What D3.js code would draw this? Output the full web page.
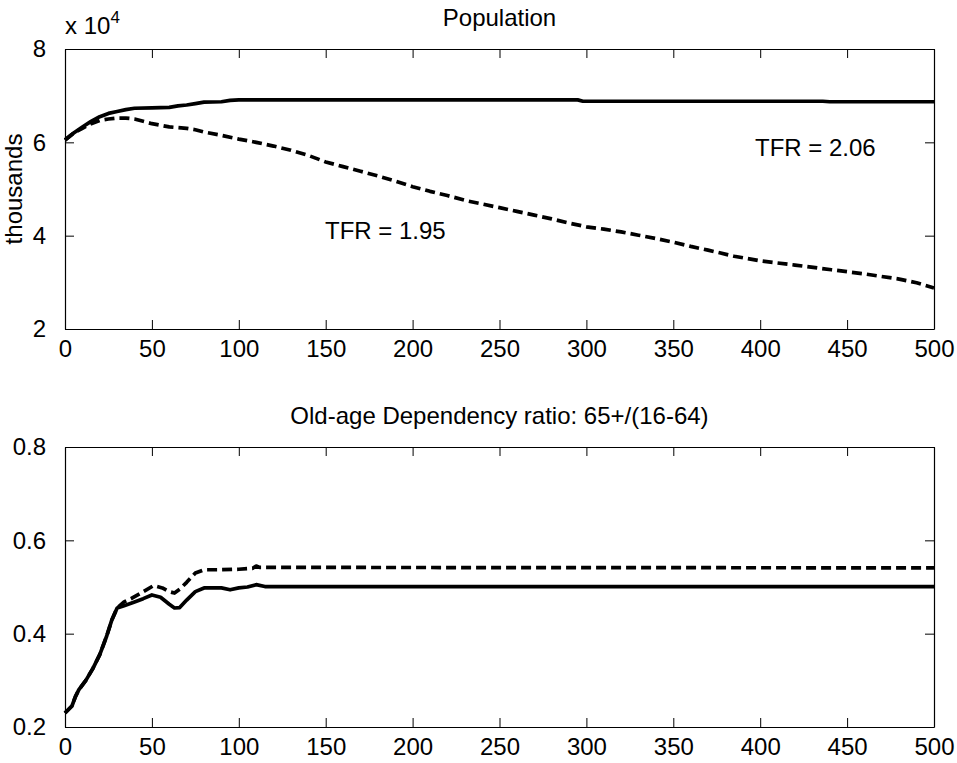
<!DOCTYPE html>
<html>
<head>
<meta charset="utf-8">
<script src="https://cdn.jsdelivr.net/npm/d3@7"></script>
<style>
  body { margin: 0; background: #fff; }
  svg text { font-family: "Liberation Sans", Arial, sans-serif; fill: #000; }
</style>
</head>
<body>
<svg id="chart" width="957" height="763"></svg>
<script>
// top panel: population (units of 10^4 thousands)
const popYears = [0,5,10,15,20,25,30,35,40,50,60,65,70,75,80,90,95,100,200,295,298,436,440,500];
const popTfr206 = [6.05,6.2,6.33,6.45,6.55,6.62,6.66,6.7,6.73,6.74,6.75,6.78,6.8,6.83,6.86,6.87,6.9,6.91,6.91,6.91,6.88,6.88,6.87,6.87];
const popYears2 = [0,5,10,15,20,25,30,35,40,45,50,60,70,75,80,90,100,110,120,130,140,150,160,170,180,190,200,210,220,232,240,250,260,270,280,290,300,310,320,330,340,350,360,370,385,400,420,441,460,480,490,500];
const popTfr195 = [6.05,6.2,6.3,6.4,6.47,6.5,6.52,6.52,6.5,6.45,6.4,6.33,6.3,6.27,6.22,6.15,6.07,6.0,5.92,5.83,5.72,5.58,5.48,5.38,5.28,5.17,5.05,4.95,4.86,4.74,4.68,4.6,4.52,4.44,4.36,4.27,4.19,4.14,4.08,4.01,3.94,3.86,3.77,3.69,3.56,3.46,3.37,3.27,3.18,3.07,2.99,2.88];

// bottom panel: old-age dependency ratio
const depYears = [0,4,6,8,12,16,20,24,27,30,34,40,45,50,55,60,63,66,70,75,80,90,95,100,105,110,115,500];
const depTfr206 = [0.23,0.245,0.265,0.28,0.3,0.325,0.355,0.395,0.43,0.455,0.46,0.468,0.475,0.483,0.478,0.463,0.455,0.456,0.472,0.49,0.498,0.498,0.494,0.498,0.5,0.505,0.501,0.501];
const depYears2 = [0,4,6,8,12,16,20,24,27,30,34,38,45,51,56,60,63,66,70,75,80,90,100,108,110,112,500];
const depTfr195 = [0.23,0.245,0.265,0.28,0.3,0.325,0.355,0.395,0.43,0.455,0.468,0.475,0.49,0.503,0.498,0.49,0.487,0.495,0.51,0.53,0.537,0.537,0.538,0.54,0.545,0.542,0.541];

const xTicks = [0,50,100,150,200,250,300,350,400,450,500];
const popTicks = [2,4,6,8];
const depTicks = [0.2,0.4,0.6,0.8];

const svg = d3.select("#chart");
const left = 65, right = 934;
const fontSize = 24;

const xScale = d3.scaleLinear().domain([0, 500]).range([left, right]);

function drawPanel(top, bottom, yDomain, yTicks, yFormat, title, series) {
  const yScale = d3.scaleLinear().domain(yDomain).range([bottom, top]);
  const g = svg.append("g");

  // lines first, box on top
  const line = d3.line().x(d => xScale(d[0])).y(d => yScale(d[1]));
  series.forEach(s => {
    g.append("path")
      .datum(d3.zip(s.x, s.y))
      .attr("d", line)
      .attr("fill", "none")
      .attr("stroke", "#000")
      .attr("stroke-width", 3.7)
      .attr("stroke-linejoin", "round")
      .attr("stroke-dasharray", s.dash ? "10,5" : null);
  });

  // bottom axis with inward ticks
  const xAxisG = g.append("g")
    .attr("transform", `translate(0,${bottom})`)
    .call(d3.axisBottom(xScale).tickValues(xTicks).tickSizeInner(-9).tickSizeOuter(0));
  // top axis, ticks only
  g.append("g")
    .attr("transform", `translate(0,${top})`)
    .call(d3.axisTop(xScale).tickValues(xTicks).tickSizeInner(-9).tickSizeOuter(0).tickFormat(""));
  // left axis
  g.append("g")
    .attr("transform", `translate(${left},0)`)
    .call(d3.axisLeft(yScale).tickValues(yTicks).tickSizeInner(-9).tickSizeOuter(0).tickPadding(19).tickFormat(yFormat));
  // right axis, ticks only
  g.append("g")
    .attr("transform", `translate(${right},0)`)
    .call(d3.axisRight(yScale).tickValues(yTicks).tickSizeInner(-9).tickSizeOuter(0).tickFormat(""));

  g.selectAll(".domain").attr("stroke", "#000").attr("stroke-width", 1.2);
  g.selectAll(".tick line").attr("stroke", "#000");
  g.selectAll(".tick text")
    .style("font-family", '"Liberation Sans", Arial, sans-serif')
    .style("font-size", fontSize + "px")
    .attr("fill", "#000");
  xAxisG.selectAll(".tick text").attr("dy", "0.35em").attr("y", 20);

  // title
  g.append("text")
    .attr("x", (left + right) / 2)
    .attr("y", top - 23)
    .attr("text-anchor", "middle")
    .style("font-size", fontSize + "px")
    .text(title);
  return g;
}

// Population Panel
drawPanel(49, 329, [2, 8], popTicks, d3.format("d"), "Population", [
  { x: popYears, y: popTfr206, dash: false },
  { x: popYears2, y: popTfr195, dash: true }
]);

// exponent label "x 10^4"
const expo = svg.append("text").attr("x", 65).attr("y", 34).style("font-size", fontSize + "px");
expo.append("tspan").text("x 10");
expo.append("tspan").attr("dy", -11).style("font-size", "17px").text("4");

// y label
svg.append("text")
  .attr("transform", "translate(22,189) rotate(-90)")
  .attr("text-anchor", "middle")
  .style("font-size", fontSize + "px")
  .text("thousands");

// annotations
svg.append("text").attr("x", 755).attr("y", 156).style("font-size", fontSize + "px").text("TFR = 2.06");
svg.append("text").attr("x", 325).attr("y", 239).style("font-size", fontSize + "px").text("TFR = 1.95");

// Dependency Panel
drawPanel(447, 727, [0.2, 0.8], depTicks, d3.format(".1f"), "Old-age Dependency ratio: 65+/(16-64)", [
  { x: depYears, y: depTfr206, dash: false },
  { x: depYears2, y: depTfr195, dash: true }
]);
</script>
</body>
</html>
